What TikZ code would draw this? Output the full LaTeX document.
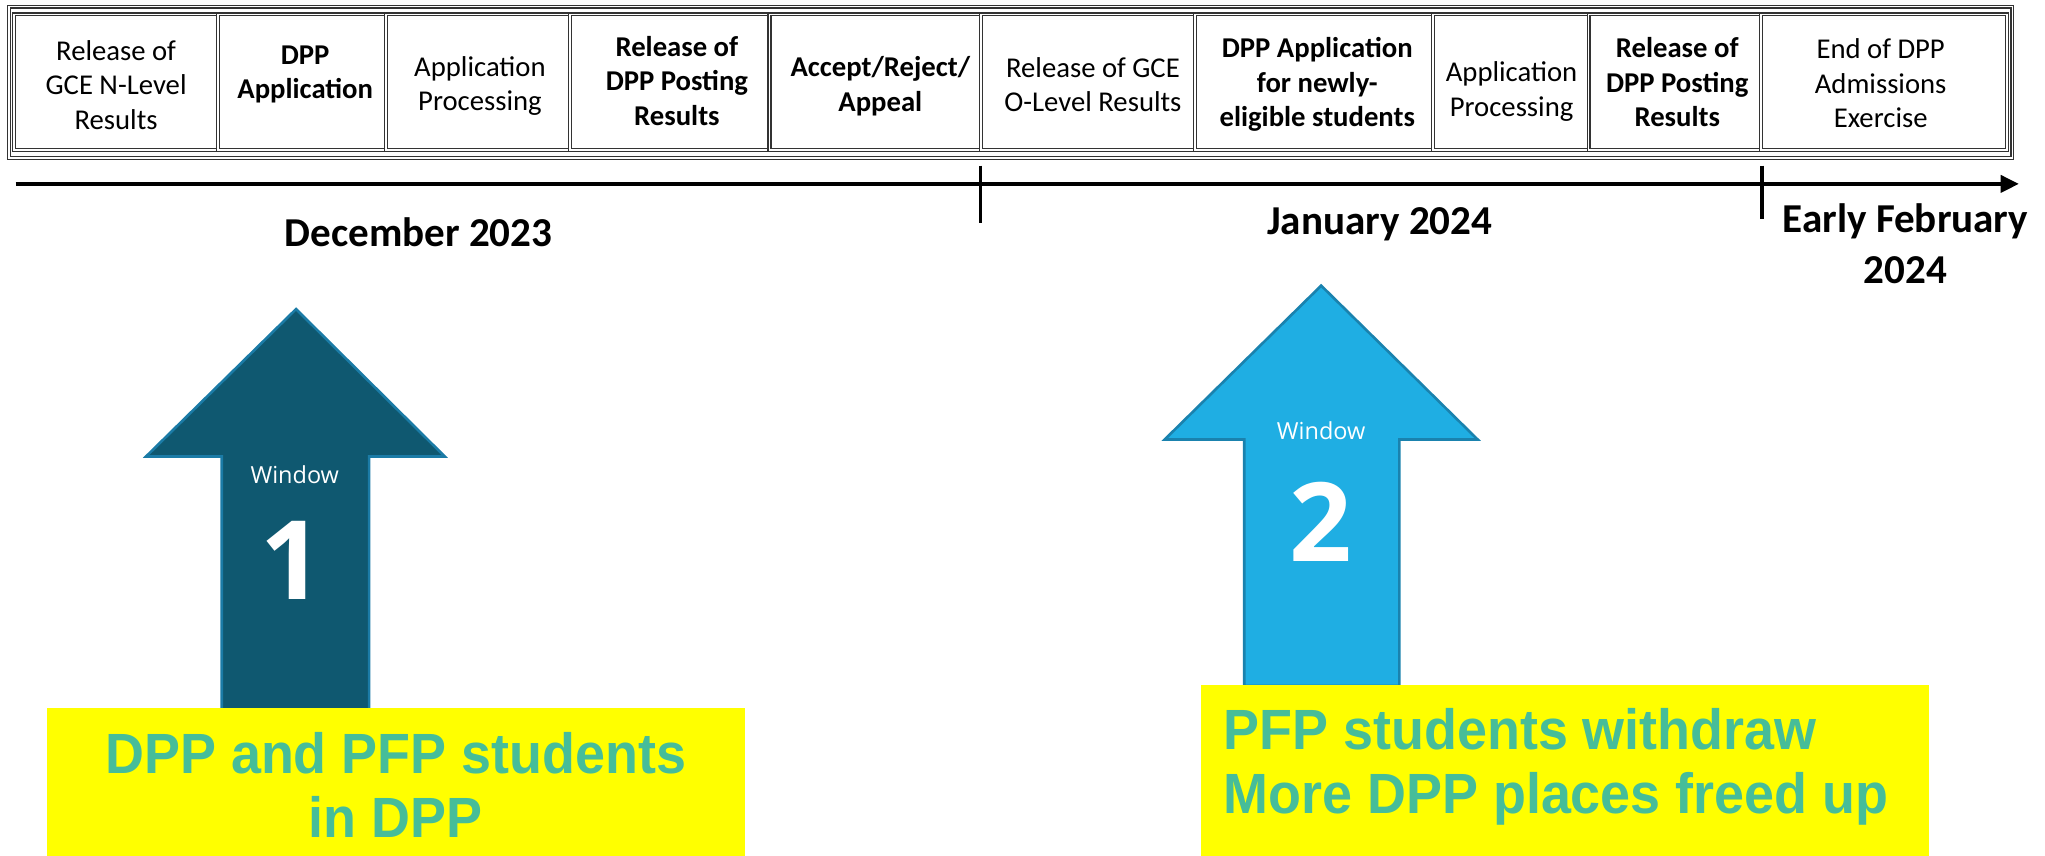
\documentclass[tikz,border=0pt]{standalone}
\usepackage{fontspec}
\setmainfont{Carlito}
\newfontfamily\winfont{Open Sans}
\newfontfamily\boxfont[FakeStretch=0.95]{Liberation Sans}
\usetikzlibrary{arrows.meta}
\definecolor{arrowA}{HTML}{0F5870}
\definecolor{arrowAb}{HTML}{1B7BA6}
\definecolor{arrowB}{HTML}{1FAEE3}
\definecolor{arrowBb}{HTML}{1A82AE}
\definecolor{ytext}{HTML}{46BD99}
\definecolor{ybg}{HTML}{FFFF00}
\definecolor{tblgray}{HTML}{333333}
\begin{document}
\begin{tikzpicture}[x=1pt,y=-1pt,
  dbl/.style={draw=tblgray,line width=0.9pt,double=white,double distance=1.3pt},
  cellbox/.style={dbl,rectangle,inner sep=0pt,minimum height=104pt},
  ctext/.style={align=center,inner sep=0pt,font=\fontsize{22}{26.5}\selectfont},
  ctextb/.style={ctext,font=\fontsize{22}{26.5}\selectfont\bfseries},
  month/.style={align=center,inner sep=0pt,font=\fontsize{31.5}{39}\selectfont\bfseries},
  bigarrowA/.style={fill=arrowA,draw=arrowAb,line width=2pt,line join=miter},
  bigarrowB/.style={fill=arrowB,draw=arrowBb,line width=2pt,line join=miter},
  wintext/.style={text=white,inner sep=0pt,font=\winfont\fontsize{18}{20}\selectfont},
  winnum/.style={text=white,inner sep=0pt,font=\winfont\bfseries\fontsize{84}{90}\selectfont},
  ybox/.style={fill=ybg,draw=none,rectangle,inner sep=0pt},
  ytxt/.style={text=ytext,inner sep=0pt,font=\boxfont\bfseries\fontsize{43.5}{49.5}\selectfont},
  tick/.style={line width=2.6pt,draw=black}
]
\useasboundingbox (0,0) rectangle (1568,656);

% ---------- table ----------
\draw[dbl] (7,5) rectangle (1543,121);
\node[cellbox,minimum width=156pt] (c1) at (89,63) {};
\node[cellbox,minimum width=129pt] (c2) at (231.5,63) {};
\node[cellbox,minimum width=141pt] (c3) at (366.5,63) {};
\node[cellbox,minimum width=153pt] (c4) at (513.5,63) {};
\node[cellbox,minimum width=162pt] (c5) at (671,63) {};
\node[cellbox,minimum width=164pt] (c6) at (834,63) {};
\node[cellbox,minimum width=183pt] (c7) at (1007.5,63) {};
\node[cellbox,minimum width=119pt] (c8) at (1158.5,63) {};
\node[cellbox,minimum width=132pt] (c9) at (1284,63) {};
\node[cellbox,minimum width=189pt] (c10) at (1444.5,63) {};

\node[ctext]  (t1) at (89,65) {Release of\\GCE N-Level\\Results};
\node[ctextb] (t2) at (234,57) {DPP\\Application};
\node[ctext]  (t3) at (368,66) {Application\\Processing};
\node[ctextb] (t4) at (519,62) {Release of\\DPP Posting\\Results};
\node[ctextb] (t5) at (675,66) {Accept/Reject/\\Appeal};
\node[ctext]  (t6) at (838,65) {Release of GCE\\O-Level Results};
\node[ctextb] (t7) at (1010,65) {DPP Application\\for newly-\\eligible students};
\node[ctext]  (t8) at (1159,70) {Application\\Processing};
\node[ctextb] (t9) at (1286,63) {Release of\\DPP Posting\\Results};
\node[ctext]  (t10) at (1442,64) {End of DPP\\Admissions\\Exercise};

% ---------- timeline ----------
\coordinate (tl0) at (12,141);
\coordinate (tl1) at (1548,141);
\draw[line width=3pt,-{Triangle[length=14pt,width=13pt]}] (tl0) -- (tl1);
\coordinate (k1a) at (752,127);
\coordinate (k1b) at (752,171);
\coordinate (k2a) at (1351,127);
\coordinate (k2b) at (1351,168);
\draw[tick] (k1a) -- (k1b);
\draw[tick] (k2a) -- (k2b);

\node[month] (m1) at (321,178) {December 2023};
\node[month] (m2) at (1058,172) {January 2024};
\node[month] (m3) at (1461,187) {Early February\\2024};

% ---------- arrows ----------
\draw[bigarrowA] (227,237) -- (341,350) -- (283,350) -- (283,545) -- (170,545) -- (170,350) -- (112,350) -- cycle;
\node[wintext] (w1) at (226,364) {Window};
\node[winnum] (n1) at (224,430) {1};

\draw[bigarrowB] (1013,219) -- (1133,337) -- (1073,337) -- (1073,526) -- (954,526) -- (954,337) -- (893,337) -- cycle;
\node[wintext] (w2) at (1013,330) {Window};
\node[winnum] (n2) at (1013,400) {2};

% ---------- yellow boxes ----------
\node[ybox,minimum width=535pt,minimum height=113pt] (y1) at (303.5,599.5) {};
\node[ytxt,align=center] (y1t) at (303.5,602) {DPP and PFP students\\in DPP};

\node[ybox,minimum width=558pt,minimum height=131pt] (y2) at (1200,590.5) {};
\node[ytxt,align=left,anchor=west] (y2t) at (938,588) {PFP students withdraw\\More DPP places freed up};
\end{tikzpicture}
\end{document}
